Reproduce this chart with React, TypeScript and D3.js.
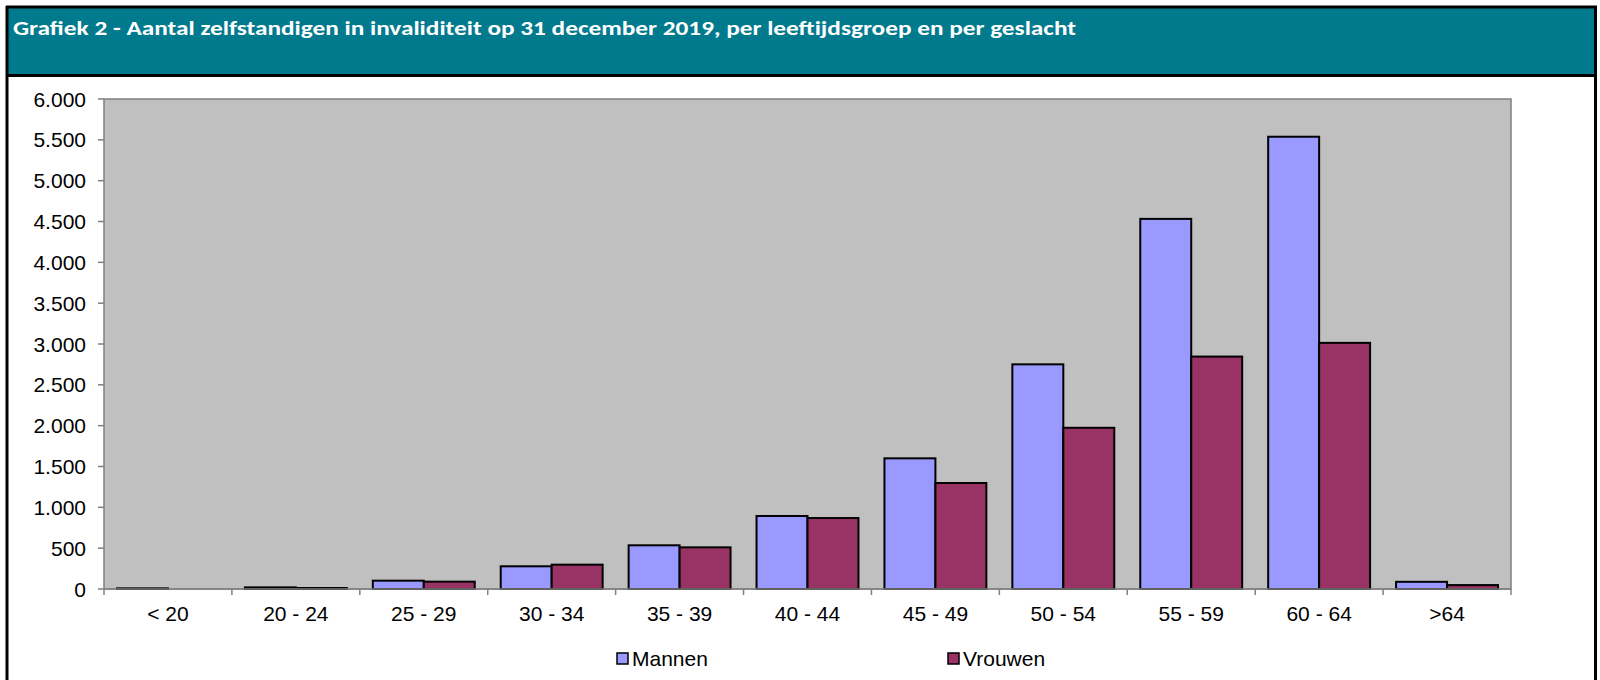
import React from "react";
import * as d3 from "d3";

// leeftijdsgroepen en aantallen
const categories = ["< 20", "20 - 24", "25 - 29", "30 - 34", "35 - 39", "40 - 44", "45 - 49", "50 - 54", "55 - 59", "60 - 64", ">64"];
const mannen = [8, 20, 102, 278, 535, 894, 1600, 2751, 4532, 5538, 88];
const vrouwen = [0, 12, 90, 298, 510, 869, 1298, 1974, 2846, 3014, 48];
const seriesNames = ["Mannen", "Vrouwen"];
const seriesColors = ["#9999FF", "#993366"];
const yTicks = [0, 500, 1000, 1500, 2000, 2500, 3000, 3500, 4000, 4500, 5000, 5500, 6000];

const W = 1600, H = 680;
const plot = { left: 104, right: 1511, top: 99, bottom: 589 };

const nl = d3.formatLocale({ decimal: ",", thousands: ".", grouping: [3], currency: ["€", ""] });
const fmt = nl.format(",");

export default function App() {
  const x = d3.scaleBand<string>().domain(categories).range([plot.left, plot.right]);
  const xs = d3.scaleBand<string>().domain(seriesNames).range([0, x.bandwidth()]).paddingOuter(0.255);
  const y = d3.scaleLinear().domain([0, 6000]).range([plot.bottom, plot.top]);
  const data = [mannen, vrouwen];
  const axisFont = "'Liberation Sans', Arial, sans-serif";

  return (
    <svg width={W} height={H} style={{ position: "absolute", left: 0, top: 0, background: "#fff" }}>
      {/* kop */}
      <rect x={7} y={7} width={1589} height={68} fill="#027A8E" />
      <text x={13} y={35} fill="#fff" fontFamily="Carlito, Calibri, Lato, sans-serif" fontWeight="bold" fontSize={21}
        textLength={1063} lengthAdjust="spacingAndGlyphs">
        Grafiek 2 - Aantal zelfstandigen in invaliditeit op 31 december 2019, per leeftijdsgroep en per geslacht
      </text>
      <line x1={7} x2={1596} y1={75.5} y2={75.5} stroke="#000" strokeWidth={3} />
      <line x1={7} x2={7} y1={6} y2={H} stroke="#000" strokeWidth={3} />
      <line x1={1595.5} x2={1595.5} y1={6} y2={H} stroke="#000" strokeWidth={3} />
      <line x1={6} x2={1597} y1={7} y2={7} stroke="#000" strokeWidth={3} />

      {/* plotvlak */}
      <rect x={plot.left} y={plot.top} width={plot.right - plot.left} height={plot.bottom - plot.top}
        fill="#C0C0C0" stroke="#808080" strokeWidth={1.5} />

      {/* y-as */}
      {yTicks.map(t => (
        <g key={t}>
          <line x1={plot.left - 6} x2={plot.left} y1={y(t)} y2={y(t)} stroke="#808080" strokeWidth={1.5} />
          <text x={86} y={y(t)} dy="0.36em" textAnchor="end" fontFamily={axisFont} fontSize={21} fill="#000">{fmt(t)}</text>
        </g>
      ))}

      {/* staven */}
      {categories.map((c, i) => (
        <g key={c} transform={`translate(${x(c)},0)`}>
          {seriesNames.map((s, j) => data[j][i] > 0 ? (
            <rect key={s} x={xs(s)} y={y(data[j][i])} width={xs.bandwidth()} height={y(0) - y(data[j][i])}
              fill={seriesColors[j]} stroke="#000" strokeWidth={2} />
          ) : null)}
        </g>
      ))}

      {/* x-as */}
      <line x1={plot.left} x2={plot.right} y1={plot.bottom} y2={plot.bottom} stroke="#808080" strokeWidth={1.5} />
      {[...categories.map(c => x(c) as number), plot.right].map((px, i) => (
        <line key={i} x1={px} x2={px} y1={plot.bottom} y2={plot.bottom + 6} stroke="#808080" strokeWidth={1.5} />
      ))}
      {categories.map(c => (
        <text key={c} x={(x(c) as number) + x.bandwidth() / 2} y={621} textAnchor="middle" fontFamily={axisFont} fontSize={21} fill="#000">{c}</text>
      ))}

      {/* legenda */}
      {seriesNames.map((s, j) => {
        const lx = [617, 948][j];
        return (
          <g key={s}>
            <rect x={lx} y={653} width={11} height={11} fill={seriesColors[j]} stroke="#000" strokeWidth={1.5} />
            <text x={lx + 15} y={666} fontFamily={axisFont} fontSize={21} fill="#000">{s}</text>
          </g>
        );
      })}
    </svg>
  );
}
